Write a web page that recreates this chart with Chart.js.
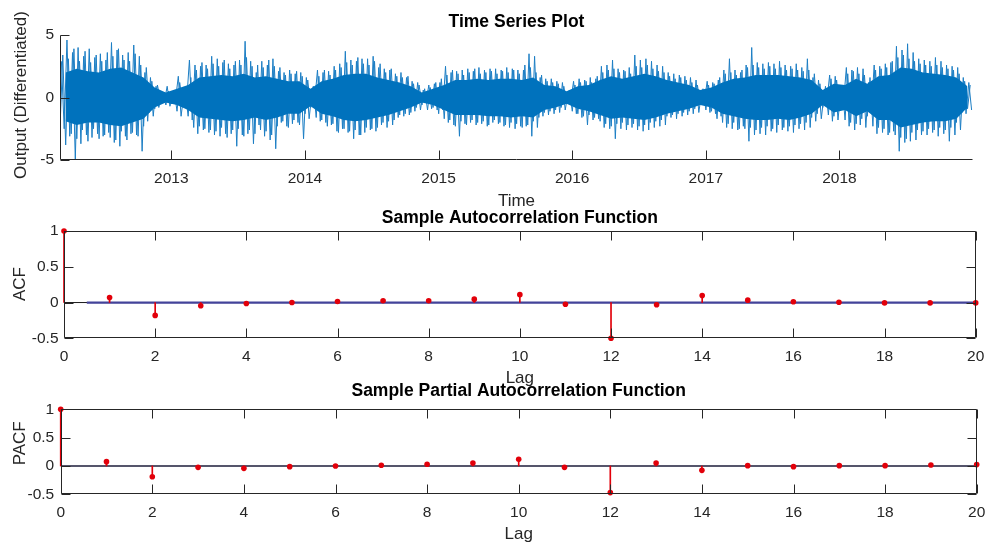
<!DOCTYPE html>
<html><head><meta charset="utf-8">
<script src="https://cdn.jsdelivr.net/npm/chart.js"></script>
<style>
html,body{margin:0;padding:0;background:#fff;}
#wrap{position:relative;width:987px;height:546px;background:#fff;}
canvas{position:absolute;left:0;top:0;}
</style></head><body>
<div id="wrap">
<canvas id="c1" width="987" height="546"></canvas>
<canvas id="c2" width="987" height="546"></canvas>
<canvas id="c3" width="987" height="546"></canvas>
</div>
<script>
// ---------------- DATA ----------------
const tsStart = 2012 + 2 / 12;   // 1 March 2012
const tsEnd = 2019;               // 31 Dec 2018
const yearTicks = [2013, 2014, 2015, 2016, 2017, 2018];
const tsTicksY = [-5, 0, 5];

// half-month envelope of the differenced series (largest peaks / troughs in each half month)
const spikeHi = [2.9,4.6,3.6,4.0,3.3,3.9,3.2,3.5,3.0,4.4,3.8,3.4,3.6,4.2,3.3,2.0,1.6,0.9,0.3,0.9,
  0.3,1.7,0.3,3.0,2.6,2.5,2.6,3.3,3.1,2.8,2.7,2.6,3.0,4.5,2.9,2.0,2.9,2.6,3.1,2.1,
  2.0,2.2,1.9,2.0,1.6,0.4,2.2,2.0,2.1,2.5,2.7,3.7,3.0,2.9,3.1,3.1,3.3,2.4,2.3,2.2,
  1.9,2.0,1.6,1.3,1.2,0.6,1.0,1.1,1.2,2.5,2.0,2.1,2.2,2.3,2.1,2.4,2.2,2.3,2.3,2.2,
  2.4,2.3,2.2,2.2,3.5,3.3,1.6,1.5,1.5,1.3,1.2,0.3,1.3,1.5,1.4,1.6,1.5,2.5,2.6,3.0,
  2.3,2.2,2.4,3.4,3.0,3.1,2.9,2.6,2.5,2.0,1.9,1.8,1.7,1.6,1.4,0.4,1.3,1.2,1.4,2.2,
  3.1,2.2,2.0,2.6,4.0,2.8,2.7,2.8,2.7,2.9,2.6,2.5,2.7,2.4,3.1,1.6,1.4,0.3,1.8,1.7,
  0.5,2.4,2.2,2.4,2.3,1.2,2.6,2.5,2.7,2.8,4.1,3.8,4.3,3.6,3.1,3.0,2.9,3.2,2.9,2.6,
  2.5,2.4,1.6,1.2];
const spikeLo = [-2.5,-3.1,-5.0,-3.7,-3.0,-3.2,-2.9,-3.1,-2.8,-3.6,-3.9,-3.1,-2.9,-3.0,-4.3,-1.9,-1.5,-0.8,-0.3,-0.7,
  -0.2,-1.5,-0.3,-1.8,-2.9,-2.6,-2.8,-3.0,-3.1,-2.9,-2.9,-3.9,-3.0,-2.9,-3.7,-2.2,-3.1,-3.4,-4.1,-2.0,
  -2.3,-2.1,-2.0,-3.3,-1.7,-0.3,-1.9,-2.0,-2.2,-2.7,-2.5,-2.8,-3.3,-3.0,-2.8,-2.6,-2.7,-2.2,-2.4,-2.2,
  -1.6,-1.5,-1.4,-1.1,-1.0,-0.4,-0.9,-1.0,-1.0,-2.0,-2.2,-3.1,-2.1,-2.0,-2.2,-2.1,-2.3,-2.0,-2.1,-2.3,
  -2.4,-2.5,-2.3,-2.3,-3.1,-2.4,-1.5,-1.4,-1.3,-1.2,-1.0,-0.3,-1.3,-1.6,-2.2,-1.8,-1.7,-2.4,-2.5,-3.3,
  -2.5,-2.6,-2.4,-2.6,-2.7,-2.6,-2.4,-2.3,-2.2,-1.6,-1.7,-1.5,-1.4,-1.3,-1.2,-0.3,-1.2,-1.3,-1.5,-2.4,
  -2.5,-2.6,-2.3,-3.5,-3.0,-2.9,-3.0,-2.7,-2.8,-2.6,-2.7,-2.8,-2.5,-2.6,-2.4,-1.9,-1.7,-0.3,-1.9,-1.8,
  -0.4,-2.3,-2.6,-2.2,-2.4,-1.0,-2.9,-2.8,-3.0,-2.7,-4.3,-3.6,-3.5,-3.4,-3.0,-3.0,-2.8,-3.1,-2.9,-3.5,
  -3.0,-2.6,-1.3,-1.0];
// secondary peaks / troughs in each half month
const peak2Hi = [3.4,3.1,3.9,2.9,3.7,2.8,3.4,2.9,3.6,3.3,3.9,3.0,2.9,3.5,2.6,2.4,1.3,1.0,0.4,0.5,
  0.6,1.2,0.5,1.6,2.2,2.8,2.3,2.7,2.5,3.0,2.3,2.9,2.6,3.2,2.5,2.6,2.4,3.0,2.5,2.4,
  1.8,1.9,2.1,1.7,1.4,0.9,1.7,2.2,1.8,2.2,2.4,2.8,2.6,3.2,2.7,2.6,2.9,2.7,2.0,2.3,
  1.7,1.6,1.7,1.1,1.0,0.7,0.8,1.2,1.5,1.8,2.2,1.9,1.8,2.0,2.3,1.9,2.0,2.1,1.9,2.1,
  2.0,2.2,1.9,2.6,2.4,2.0,1.8,1.3,1.2,1.1,0.9,0.6,1.0,1.2,1.3,1.2,1.7,2.0,2.2,2.3,
  2.0,2.1,1.9,2.5,2.4,2.6,2.3,2.1,2.0,1.7,1.5,1.6,1.4,1.2,1.0,0.7,1.0,1.1,1.6,1.9,
  2.0,1.8,2.2,2.4,2.6,2.4,2.3,2.5,2.3,2.4,2.2,2.3,2.2,2.1,2.2,1.9,1.1,0.9,1.5,1.4,
  1.0,1.9,2.1,1.9,1.8,1.6,2.2,2.3,2.4,2.9,3.2,3.4,3.1,2.9,2.7,2.6,2.5,2.6,2.4,2.3,
  2.2,1.9,1.3,1.0];
const peak2Lo = [-2.2,-3.8,-2.9,-3.3,-2.6,-3.5,-2.5,-3.3,-3.0,-3.2,-3.4,-2.7,-3.4,-2.8,-3.1,-2.3,-1.2,-0.9,-0.2,-0.6,
  -0.5,-1.1,-0.4,-1.5,-2.4,-2.3,-2.5,-2.6,-2.7,-2.4,-3.2,-2.6,-2.5,-3.1,-2.6,-2.9,-2.6,-2.7,-3.0,-2.3,
  -1.9,-2.4,-1.8,-2.2,-1.3,-0.8,-1.6,-1.8,-2.3,-2.1,-2.8,-2.5,-2.7,-2.6,-3.0,-2.4,-2.5,-2.4,-2.0,-1.9,
  -1.8,-1.4,-1.3,-1.2,-0.8,-0.6,-1.0,-0.8,-1.3,-1.7,-1.8,-2.3,-1.9,-2.2,-1.8,-2.0,-1.9,-2.2,-1.8,-2.0,
  -2.2,-2.0,-2.1,-2.4,-2.2,-1.9,-1.6,-1.2,-1.1,-1.0,-0.8,-0.5,-1.1,-1.3,-1.5,-1.4,-1.6,-1.9,-2.1,-2.3,
  -2.1,-2.0,-2.2,-2.1,-2.3,-2.2,-2.0,-1.9,-1.8,-1.5,-1.4,-1.3,-1.2,-1.1,-0.9,-0.6,-1.0,-1.1,-1.7,-2.0,
  -2.1,-2.0,-2.5,-2.5,-2.4,-2.6,-2.4,-2.3,-2.5,-2.2,-2.4,-2.3,-2.2,-2.1,-2.0,-1.6,-1.3,-0.8,-1.4,-1.5,
  -0.9,-1.8,-2.0,-2.1,-1.7,-1.5,-2.3,-2.4,-2.5,-2.8,-3.0,-3.2,-3.3,-2.8,-2.6,-2.7,-2.5,-2.6,-2.4,-2.6,
  -2.4,-2.0,-1.2,-0.9];
// monthly extent of the dense core of the series
const coreHi = [2.0,2.3,2.1,2.0,2.3,2.4,2.0,1.6,0.8,0.4,0.7,1.0,1.6,1.7,1.8,1.7,1.9,1.6,1.7,1.5,
  1.3,1.3,0.7,1.3,1.5,1.8,1.9,1.9,1.6,1.4,1.2,0.9,0.4,0.7,1.0,1.4,1.4,1.5,1.4,1.5,
  1.5,1.4,1.6,1.0,0.9,0.5,0.9,1.0,1.4,1.7,1.5,1.7,1.9,1.7,1.4,1.2,1.0,0.6,0.8,1.2,
  1.5,1.6,1.8,1.8,1.8,1.7,1.6,1.4,0.6,1.1,1.0,1.5,1.1,1.7,1.8,2.4,2.3,2.0,1.9,1.8,
  1.6,0.9];
const coreLo = [-1.9,-2.2,-2.0,-2.0,-2.2,-2.3,-2.0,-1.7,-0.8,-0.4,-0.6,-1.0,-1.6,-1.7,-1.8,-1.9,-1.8,-1.6,-1.8,-1.6,
  -1.3,-1.3,-0.7,-1.3,-1.5,-1.8,-1.9,-1.8,-1.6,-1.4,-1.1,-0.8,-0.4,-0.6,-1.0,-1.4,-1.4,-1.4,-1.5,-1.5,
  -1.6,-1.5,-1.6,-1.0,-0.8,-0.5,-0.9,-1.1,-1.4,-1.7,-1.6,-1.7,-1.8,-1.6,-1.3,-1.1,-0.9,-0.6,-0.8,-1.3,
  -1.5,-1.7,-1.8,-1.8,-1.7,-1.8,-1.6,-1.3,-0.6,-1.2,-1.0,-1.5,-1.1,-1.8,-1.8,-2.4,-2.2,-2.0,-1.9,-1.9,
  -1.7,-0.8];

const lags = [0,1,2,3,4,5,6,7,8,9,10,11,12,13,14,15,16,17,18,19,20];
const acfValues = [1,0.07,-0.18,-0.046,-0.014,0.0,0.014,0.024,0.024,0.047,0.11,-0.023,-0.5,-0.032,0.098,0.033,0.01,0.005,-0.005,-0.005,-0.005];
const pacfValues = [1,0.076,-0.19,-0.024,-0.042,-0.012,0.0,0.012,0.03,0.053,0.117,-0.024,-0.47,0.053,-0.077,0.006,-0.012,0.006,0.006,0.018,0.024];
const lagTicks = [0,2,4,6,8,10,12,14,16,18,20];
const corrTicksY = [-0.5,0,0.5,1];
const acfBoundStart = 0.5;

// ---------------- STYLE ----------------
const fontFam = '"Liberation Sans", Arial, Helvetica, sans-serif';
const axisColor = '#262626';
const tsBlue = '#0072BD';
const spikeBlue = '#1c7ec4';
const stemRed = '#e2000a';
const YW = 50, XH = 40, W = 987, H = 546;
Chart.defaults.font.family = fontFam;

function pad(L, T, R, B) { return {left: L - YW, top: T, right: W - R, bottom: H - B - XH}; }
function fitBox(w, h) {
  return function (s) {
    if (w != null) s.width = w;
    if (h != null) s.height = h;
    s.paddingLeft = 0; s.paddingRight = 0; s.paddingTop = 0; s.paddingBottom = 0;
  };
}
function xScale(min, max, ticks) {
  return {type: 'linear', min: min, max: max, offset: false,
    grid: {display: false, drawTicks: false, offset: false}, border: {display: false},
    ticks: {font: {size: 15.5}, color: axisColor, padding: 9, maxRotation: 0, minRotation: 0, autoSkip: false,
      callback: v => String(v)},
    afterBuildTicks: s => { s.ticks = ticks.map(v => ({value: v})); },
    afterFit: fitBox(null, XH)};
}
function yScale(min, max, ticks, padd) {
  return {type: 'linear', min: min, max: max,
    grid: {display: false, drawTicks: false}, border: {display: false},
    ticks: {font: {size: 15.5}, color: axisColor, padding: padd, autoSkip: false,
      callback: v => String(v)},
    afterBuildTicks: s => { s.ticks = ticks.map(v => ({value: v})); },
    afterFit: fitBox(YW, null)};
}
function axesPlugin(box) {
  return {id: 'axesBox', afterDraw(chart) {
    const ctx = chart.ctx, a = chart.chartArea, xs = chart.scales.x, ys = chart.scales.y;
    const tl = 9;
    ctx.save();
    ctx.strokeStyle = axisColor; ctx.lineWidth = 1;
    const L = Math.round(a.left) + 0.5, R = Math.round(a.right) - 0.5;
    const T = Math.round(a.top) + 0.5, B = Math.round(a.bottom) - 0.5;
    ctx.beginPath();
    ctx.moveTo(L, T); ctx.lineTo(L, B); ctx.lineTo(R, B);
    if (box) { ctx.lineTo(R, T); ctx.lineTo(L, T); }
    xs.ticks.forEach(t => {
      const px = Math.round(xs.getPixelForValue(t.value)) + 0.5;
      ctx.moveTo(px, B); ctx.lineTo(px, B - tl);
      if (box) { ctx.moveTo(px, T); ctx.lineTo(px, T + tl); }
    });
    ys.ticks.forEach(t => {
      const py = Math.round(ys.getPixelForValue(t.value)) + 0.5;
      ctx.moveTo(L, py); ctx.lineTo(L + tl, py);
      if (box) { ctx.moveTo(R, py); ctx.lineTo(R - tl, py); }
    });
    ctx.stroke();
    ctx.restore();
  }};
}
function textPlugin(spec) {
  return {id: 'texts', afterDraw(chart) {
    const ctx = chart.ctx, a = chart.chartArea;
    const cx = (a.left + a.right) / 2;
    ctx.save();
    ctx.textAlign = 'center'; ctx.textBaseline = 'alphabetic';
    ctx.fillStyle = '#000'; ctx.font = 'bold 17.5px ' + fontFam;
    ctx.fillText(spec.title, cx, spec.titleY);
    ctx.fillStyle = axisColor; ctx.font = '17px ' + fontFam;
    ctx.fillText(spec.xlabel, cx, spec.xlabelY);
    ctx.translate(spec.ylabelX, spec.ylabelY);
    ctx.rotate(-Math.PI / 2);
    ctx.fillText(spec.ylabel, 0, 0);
    ctx.restore();
  }};
}
const common = {responsive: false, animation: false, devicePixelRatio: 1,
  plugins: {legend: {display: false}, tooltip: {enabled: false}, title: {display: false}}};

// ---------------- TIME SERIES ----------------
const halfStep = 1 / 24;
const zig = [], zig2 = [];
spikeHi.forEach((v, k) => {
  zig.push({x: tsStart + (k + 0.25) * halfStep, y: v});
  zig.push({x: tsStart + (k + 0.75) * halfStep, y: spikeLo[k]});
});
peak2Hi.forEach((v, k) => {
  zig2.push({x: tsStart + (k + 0.02) * halfStep, y: peak2Lo[k]});
  zig2.push({x: tsStart + (k + 0.5) * halfStep, y: v});
});
const coreUp = coreHi.map((v, m) => ({x: tsStart + (m + 0.5) / 12, y: v}));
const coreDn = coreLo.map((v, m) => ({x: tsStart + (m + 0.5) / 12, y: v}));

new Chart(document.getElementById('c1'), {
  type: 'line',
  data: {datasets: [
    {data: coreUp, borderWidth: 0, pointRadius: 0, fill: '+1', backgroundColor: tsBlue, tension: 0},
    {data: coreDn, borderWidth: 0, pointRadius: 0, fill: false, tension: 0},
    {data: zig2, borderColor: spikeBlue, borderWidth: 1, pointRadius: 0, fill: false, tension: 0, borderJoinStyle: 'bevel'},
    {data: zig, borderColor: spikeBlue, borderWidth: 1, pointRadius: 0, fill: false, tension: 0, borderJoinStyle: 'bevel'}
  ]},
  options: Object.assign({}, common, {
    layout: {padding: pad(60, 35, 973, 160)},
    scales: {x: xScale(tsStart, tsEnd, yearTicks), y: yScale(-5, 5, tsTicksY, 6)}
  }),
  plugins: [axesPlugin(false), textPlugin({title: 'Time Series Plot', titleY: 26.7, xlabel: 'Time', xlabelY: 205.7,
    ylabel: 'Output (Differentiated)', ylabelX: 25.5, ylabelY: 95})]
});

// ---------------- ACF / PACF ----------------
function corrChart(id, values, area, ylab, texts, lineColor, lineWidth, showBound, ticksPad) {
  const pts = lags.map((l, i) => ({x: l, y: values[i]}));
  const last = lags[lags.length - 1];
  const ds = [
    {type: 'scatter', data: pts, pointRadius: 2.8, pointBackgroundColor: stemRed, pointBorderWidth: 0, showLine: false, clip: false, order: 0},
    {type: 'bar', data: pts, backgroundColor: stemRed, barThickness: 1, borderWidth: 0, order: 1, clip: false},
    {type: 'line', data: [{x: lags[0], y: 0}, {x: last, y: 0}], borderColor: lineColor, borderWidth: lineWidth, pointRadius: 0, fill: false, order: 4}
  ];
  if (showBound) ds.push({type: 'line', data: [{x: acfBoundStart, y: 0}, {x: last, y: 0}], borderColor: '#43439a', borderWidth: 2.2, pointRadius: 0, fill: false, order: 3});
  new Chart(document.getElementById(id), {
    type: 'bar',
    data: {datasets: ds},
    options: Object.assign({}, common, {
      layout: {padding: pad(area[0], area[1], area[2], area[3])},
      scales: {x: xScale(lags[0], last, lagTicks), y: yScale(-0.5, 1, corrTicksY, ticksPad)}
    }),
    plugins: [axesPlugin(true), textPlugin(Object.assign({xlabel: 'Lag', ylabel: ylab}, texts))]
  });
}
corrChart('c2', acfValues, [64, 231, 975.7, 338.3], 'ACF',
  {title: 'Sample Autocorrelation Function', titleY: 223.3, xlabelY: 383.3, ylabelX: 25, ylabelY: 284},
  '#1a1a1a', 1, true, 5.5);
corrChart('c3', pacfValues, [60.7, 409.3, 976.7, 494.3], 'PACF',
  {title: 'Sample Partial Autocorrelation Function', titleY: 395.7, xlabelY: 539.3, ylabelX: 25, ylabelY: 443.3},
  '#1c1c3a', 1.6, false, 6.5);
</script>
</body></html>
